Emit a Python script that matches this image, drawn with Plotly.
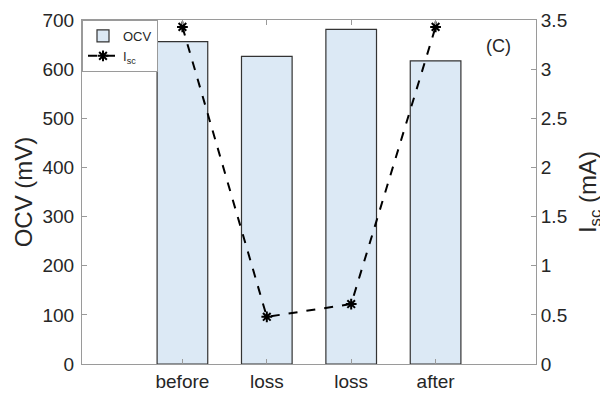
import plotly.graph_objects as go

categories = ["before", "loss", "loss", "after"]
ocv_mv = [656, 626, 681, 617]
isc_ma = [3.43, 0.48, 0.61, 3.43]

xpos = list(range(len(categories)))

fig = go.Figure()
fig.add_trace(go.Bar(
    x=xpos, y=ocv_mv, name="OCV", width=0.6,
    marker=dict(color="#dce9f5", line=dict(color="#333333", width=1.2)),
    yaxis="y",
))
fig.add_trace(go.Scatter(
    x=xpos, y=isc_ma, name="I<sub>sc</sub>", mode="lines+markers",
    line=dict(color="black", width=2, dash="dash"),
    marker=dict(symbol="asterisk-open", size=9, color="black", line=dict(color="black", width=2)),
    yaxis="y2",
))

axis_color = "#9a9a9a"
fig.update_layout(
    width=600, height=386,
    margin=dict(l=74, r=72, t=12, b=30, autoexpand=False),
    paper_bgcolor="white", plot_bgcolor="white",
    font=dict(family="Liberation Sans, Arial, sans-serif", color="#262626", size=19),
    showlegend=True,
    legend=dict(x=0, y=1, xanchor="left", yanchor="top", bgcolor="white",
                bordercolor=axis_color, borderwidth=1, font=dict(size=13),
                tracegroupgap=0, itemwidth=30),
    xaxis=dict(
        range=[-1.19, 4.19], tickvals=xpos, ticktext=categories, automargin=False,
        showline=True, linecolor=axis_color, mirror="ticks",
        ticks="inside", ticklen=5, tickcolor=axis_color, showgrid=False, zeroline=False,
        tickfont=dict(size=19),
    ),
    yaxis=dict(
        range=[0, 700], dtick=100, showline=True, linecolor=axis_color, mirror=True,
        automargin=False, ticklabelstandoff=3,
        ticks="inside", ticklen=5, tickcolor=axis_color, showgrid=False, zeroline=False,
        title=dict(text="OCV (mV)", font=dict(size=24), standoff=3),
        tickfont=dict(size=19),
    ),
    yaxis2=dict(
        range=[0, 3.5], dtick=0.5, overlaying="y", side="right", anchor="x",
        showline=True, linecolor=axis_color, automargin=False,
        ticks="inside", ticklen=5, tickcolor=axis_color, showgrid=False, zeroline=False,
        title=dict(text="I<sub>sc</sub> (mA)", font=dict(size=24), standoff=12),
        tickfont=dict(size=19),
    ),
    annotations=[dict(text="(C)", x=0.918, y=0.924, xref="paper", yref="paper",
                      xanchor="center", yanchor="middle",
                      showarrow=False, font=dict(size=18, color="#262626"))],
)

fig.write_html("out.html")
